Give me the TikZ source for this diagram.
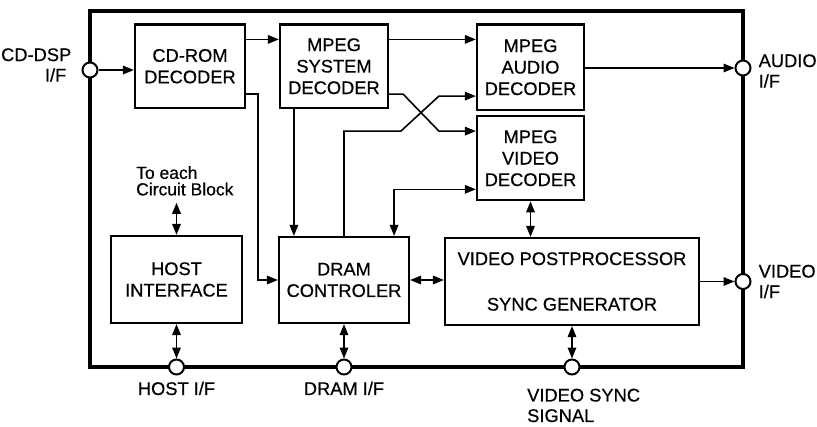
\documentclass[tikz,border=0pt]{standalone}
\usepackage{fontspec}
\setmainfont{Liberation Sans}[FakeBold=0.5]
\usetikzlibrary{arrows.meta, positioning}

\begin{document}
\begin{tikzpicture}[
    x=1pt, y=-1pt,
    box/.style={draw, line width=2.2pt, align=center, inner sep=0pt,
                font=\fontsize{18.3}{21.5}\selectfont},
    port/.style={draw, circle, line width=2pt, fill=white, minimum size=15pt, inner sep=0pt},
    lbl/.style={inner sep=0pt, font=\fontsize{18.3}{20.5}\selectfont},
    arr/.style={-{Triangle[length=11pt, width=8.5pt]}, line width=1.6pt},
    darr/.style={{Triangle[length=11pt, width=8.5pt]}-{Triangle[length=11pt, width=8.5pt]}, line width=1.6pt},
  ]
  \useasboundingbox (0,0) rectangle (817,426);
  % chip outline
  \draw[line width=3.4pt] (90,11) rectangle (743,367);

  % blocks
  \node[box, minimum width=110pt, minimum height=83.5pt] (cdrom) at (190,66.25) {CD-ROM\\DECODER};
  \node[box, minimum width=108pt, minimum height=83.5pt] (sysdec) at (334,66.25) {MPEG\\SYSTEM\\DECODER};
  \node[box, minimum width=107pt, minimum height=85.5pt] (auddec) at (530.5,67.25) {MPEG\\AUDIO\\DECODER};
  \node[box, minimum width=107pt, minimum height=84pt, below=4pt of auddec] (viddec) {MPEG\\VIDEO\\DECODER};
  \node[box, minimum width=131pt, minimum height=87pt] (host) at (176.5,279.5) {HOST\\INTERFACE};
  \node[box, minimum width=130pt, minimum height=86pt] (dram) at (344,280) {DRAM\\CONTROLER};
  \node[box, minimum width=254pt, minimum height=87pt] (vpost) at (572,281.5) {VIDEO POSTPROCESSOR\\[24pt]SYNC GENERATOR};

  % pins
  \node[port] (pcd) at (90,70) {};
  \node[port] (paud) at (743,68) {};
  \node[port] (pvid) at (743,281.5) {};
  \node[port] (phost) at (176.5,367) {};
  \node[port] (pdram) at (344,367) {};
  \node[port] (psync) at (572,367) {};

  % pin labels
  \node[lbl, align=right, left=10pt of pcd, yshift=5pt] (lcd) {CD-DSP\\I/F\hspace*{5pt}};
  \node[lbl, align=left, right=7pt of paud, yshift=-3pt] (laud) {AUDIO\\I/F};
  \node[lbl, align=left, right=7pt of pvid] (lvid) {VIDEO\\I/F};
  \node[lbl, below=6pt of phost] (lhost) {HOST I/F};
  \node[lbl, below=6pt of pdram] (ldram) {DRAM I/F};
  \node[lbl, align=left, anchor=north west] (lsync) at ([xshift=-45pt, yshift=-13pt]psync.south) {VIDEO SYNC\\SIGNAL};
  \node[lbl, align=left, anchor=north west, font=\fontsize{17.5}{16.5}\selectfont] (tocirc) at (136,166) {To each\\Circuit Block};

  % data paths
  \draw[arr] (pcd) -- (cdrom.west |- pcd);
  \draw[arr] ([yshift=-16pt]cdrom.north east) -- ([yshift=-16pt]sysdec.north west);
  \draw[arr] ([yshift=15pt]cdrom.south east) -- ++(12,0) |- (dram.west);
  \draw[arr] ([yshift=-16pt]sysdec.north east) -- ([yshift=-16pt]auddec.north west);
  \draw[arr] ([yshift=15pt]sysdec.south east) -- ++(14,0)
    -- ([xshift=-37pt, yshift=-16pt]viddec.north west) -- ([yshift=-16pt]viddec.north west);
  \draw[arr] (dram.north) |- ([xshift=-75pt, yshift=-16pt]viddec.north west)
    -- ([xshift=-37pt, yshift=15pt]auddec.south west) -- ([yshift=15pt]auddec.south west);
  \draw[arr] ([xshift=15pt]sysdec.south west) -- ([xshift=16pt]dram.north west);
  \draw[darr] ([yshift=12pt]viddec.south west) -| ([xshift=-16pt]dram.north east);
  \draw[darr] (viddec.south) -- (viddec.south |- vpost.north);
  \draw[darr] (dram.east) -- (vpost.west |- dram.east);
  \draw[arr] (auddec.east |- paud) -- (paud);
  \draw[arr] (vpost.east) -- (pvid);
  \draw[darr] (host.south) -- (phost);
  \draw[darr] (dram.south) -- (pdram);
  \draw[darr] (vpost.south) -- (psync);
  \draw[darr, shorten >=7pt] (host.north) -- (host.north |- tocirc.south);
\end{tikzpicture}
\end{document}
